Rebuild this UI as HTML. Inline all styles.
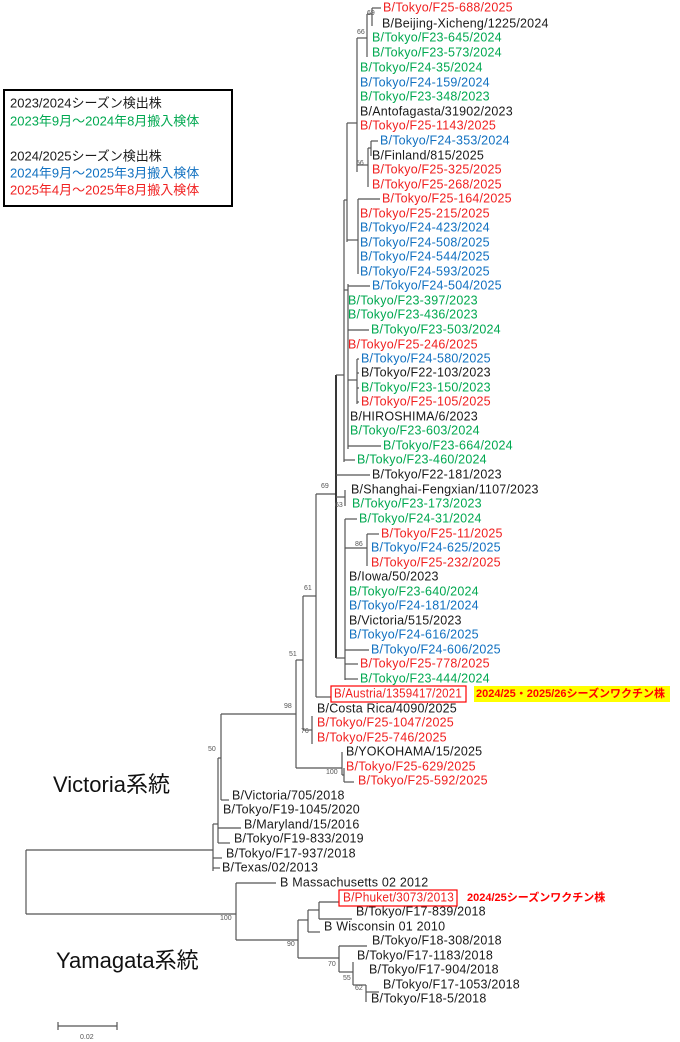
<!DOCTYPE html>
<html><head><meta charset="utf-8"><style>
html,body{margin:0;padding:0;background:#fff}
svg{display:block}
.t{font-family:"Liberation Sans","Noto Sans CJK JP",sans-serif;font-size:12.5px;letter-spacing:0.2px;dominant-baseline:middle}
.r{fill:#f02020}.g{fill:#00a850}.b{fill:#1070c0}.k{fill:#1a1a1a}
.bs{font-family:"Liberation Sans",sans-serif;font-size:7px;fill:#555}
line{stroke:#555;stroke-width:1.2}
</style></head><body>
<svg width="680" height="1042" viewBox="0 0 680 1042" xmlns="http://www.w3.org/2000/svg">
<g>
<line x1="26" y1="850" x2="26" y2="914"/>
<line x1="26" y1="850" x2="213" y2="850"/>
<line x1="26" y1="914" x2="236" y2="914"/>
<line x1="213" y1="824" x2="213" y2="871"/>
<line x1="213" y1="868" x2="220" y2="868"/>
<line x1="213" y1="858" x2="222" y2="858"/>
<line x1="213" y1="824" x2="218" y2="824"/>
<line x1="218" y1="758" x2="218" y2="843"/>
<line x1="218" y1="843" x2="230" y2="843"/>
<line x1="218" y1="828" x2="241" y2="828"/>
<line x1="218" y1="758" x2="221" y2="758"/>
<line x1="221" y1="714" x2="221" y2="800"/>
<line x1="221" y1="800" x2="229" y2="800"/>
<line x1="221" y1="714" x2="296" y2="714"/>
<line x1="296" y1="660" x2="296" y2="768"/>
<line x1="296" y1="768" x2="342" y2="768"/>
<line x1="342" y1="752" x2="342" y2="775"/>
<line x1="342" y1="775" x2="344" y2="775"/>
<line x1="344" y1="768" x2="344" y2="782"/>
<line x1="344" y1="782" x2="354" y2="782"/>
<line x1="296" y1="660" x2="303" y2="660"/>
<line x1="303" y1="596" x2="303" y2="730"/>
<line x1="303" y1="730" x2="312" y2="730"/>
<line x1="312" y1="716" x2="312" y2="744"/>
<line x1="303" y1="596" x2="316" y2="596"/>
<line x1="316" y1="494" x2="316" y2="697"/>
<line x1="316" y1="697" x2="331" y2="697"/>
<line x1="316" y1="494" x2="336" y2="494"/>
<line x1="336" y1="375" x2="336" y2="658" style="stroke-width:1.8;stroke:#222"/>
<line x1="336" y1="375" x2="344" y2="375"/>
<line x1="336" y1="475" x2="370" y2="475"/>
<line x1="336" y1="497" x2="345" y2="497"/>
<line x1="345" y1="490" x2="345" y2="506"/>
<line x1="336" y1="658" x2="345" y2="658"/>
<line x1="345" y1="519" x2="345" y2="680"/>
<line x1="345" y1="519" x2="357" y2="519"/>
<line x1="345" y1="548" x2="367" y2="548"/>
<line x1="367" y1="534" x2="367" y2="566"/>
<line x1="367" y1="534" x2="379" y2="534"/>
<line x1="345" y1="650" x2="369" y2="650"/>
<line x1="345" y1="664" x2="358" y2="664"/>
<line x1="345" y1="679" x2="358" y2="679"/>
<line x1="344" y1="200" x2="344" y2="462"/>
<line x1="344" y1="460" x2="355" y2="460"/>
<line x1="344" y1="290" x2="348" y2="290"/>
<line x1="348" y1="284" x2="348" y2="449"/>
<line x1="348" y1="286" x2="370" y2="286"/>
<line x1="348" y1="330" x2="369" y2="330"/>
<line x1="348" y1="446" x2="381" y2="446"/>
<line x1="348" y1="380" x2="357" y2="380"/>
<line x1="357" y1="359" x2="357" y2="404"/>
<line x1="357" y1="359" x2="359" y2="359"/>
<line x1="357" y1="373" x2="359" y2="373"/>
<line x1="357" y1="388" x2="359" y2="388"/>
<line x1="357" y1="402" x2="359" y2="402"/>
<line x1="344" y1="200" x2="347" y2="200"/>
<line x1="347" y1="123" x2="347" y2="242"/>
<line x1="347" y1="240" x2="358" y2="240"/>
<line x1="358" y1="199" x2="358" y2="274"/>
<line x1="358" y1="199" x2="380" y2="199"/>
<line x1="347" y1="123" x2="357" y2="123"/>
<line x1="357" y1="38" x2="357" y2="172"/>
<line x1="357" y1="38" x2="367" y2="38"/>
<line x1="367" y1="14" x2="367" y2="57"/>
<line x1="367" y1="14" x2="372" y2="14"/>
<line x1="372" y1="8" x2="372" y2="26"/>
<line x1="372" y1="8" x2="381" y2="8"/>
<line x1="357" y1="165" x2="368" y2="165"/>
<line x1="368" y1="148" x2="368" y2="187"/>
<line x1="368" y1="148" x2="371" y2="148"/>
<line x1="371" y1="141" x2="371" y2="156"/>
<line x1="371" y1="141" x2="378" y2="141"/>
<line x1="236" y1="883" x2="236" y2="940"/>
<line x1="236" y1="883" x2="276" y2="883"/>
<line x1="236" y1="940" x2="298" y2="940"/>
<line x1="298" y1="920" x2="298" y2="958"/>
<line x1="298" y1="920" x2="308" y2="920"/>
<line x1="308" y1="910" x2="308" y2="932"/>
<line x1="308" y1="932" x2="320" y2="932"/>
<line x1="308" y1="910" x2="319" y2="910"/>
<line x1="319" y1="902" x2="319" y2="919"/>
<line x1="319" y1="902" x2="339" y2="902"/>
<line x1="319" y1="919" x2="352" y2="919"/>
<line x1="298" y1="958" x2="339" y2="958"/>
<line x1="339" y1="946" x2="339" y2="972"/>
<line x1="339" y1="946" x2="367" y2="946"/>
<line x1="339" y1="972" x2="353" y2="972"/>
<line x1="353" y1="962" x2="353" y2="985"/>
<line x1="353" y1="985" x2="366" y2="985"/>
<line x1="366" y1="985" x2="366" y2="1002"/>
<line x1="366" y1="992" x2="379" y2="992"/>
<line x1="58" y1="1026" x2="117" y2="1026"/>
<line x1="58" y1="1022" x2="58" y2="1030"/>
<line x1="117" y1="1022" x2="117" y2="1030"/>
</g>
<g class="bs">
<text x="367" y="15">69</text><text x="357" y="34">66</text><text x="356" y="165">56</text>
<text x="321" y="488">69</text><text x="335" y="507">63</text><text x="355" y="546">86</text>
<text x="304" y="590">61</text><text x="289" y="656">51</text><text x="284" y="708">98</text>
<text x="301" y="733">76</text><text x="208" y="751">50</text><text x="326" y="774">100</text>
<text x="220" y="920">100</text><text x="287" y="946">90</text><text x="328" y="966">70</text>
<text x="343" y="980">55</text><text x="355" y="990">62</text><text x="80" y="1039">0.02</text>
</g>
<g class="t">
<text x="383" y="8" class="r">B/Tokyo/F25-688/2025</text>
<text x="382" y="24" class="k">B/Beijing-Xicheng/1225/2024</text>
<text x="372" y="38" class="g">B/Tokyo/F23-645/2024</text>
<text x="372" y="53" class="g">B/Tokyo/F23-573/2024</text>
<text x="360" y="68" class="g">B/Tokyo/F24-35/2024</text>
<text x="360" y="83" class="b">B/Tokyo/F24-159/2024</text>
<text x="360" y="97" class="g">B/Tokyo/F23-348/2023</text>
<text x="360" y="112" class="k">B/Antofagasta/31902/2023</text>
<text x="360" y="126" class="r">B/Tokyo/F25-1143/2025</text>
<text x="380" y="141" class="b">B/Tokyo/F24-353/2024</text>
<text x="372" y="156" class="k">B/Finland/815/2025</text>
<text x="372" y="170" class="r">B/Tokyo/F25-325/2025</text>
<text x="372" y="185" class="r">B/Tokyo/F25-268/2025</text>
<text x="382" y="199" class="r">B/Tokyo/F25-164/2025</text>
<text x="360" y="214" class="r">B/Tokyo/F25-215/2025</text>
<text x="360" y="228" class="b">B/Tokyo/F24-423/2024</text>
<text x="360" y="243" class="b">B/Tokyo/F24-508/2025</text>
<text x="360" y="257" class="b">B/Tokyo/F24-544/2025</text>
<text x="360" y="272" class="b">B/Tokyo/F24-593/2025</text>
<text x="372" y="286" class="b">B/Tokyo/F24-504/2025</text>
<text x="348" y="301" class="g">B/Tokyo/F23-397/2023</text>
<text x="348" y="315" class="g">B/Tokyo/F23-436/2023</text>
<text x="371" y="330" class="g">B/Tokyo/F23-503/2024</text>
<text x="348" y="345" class="r">B/Tokyo/F25-246/2025</text>
<text x="361" y="359" class="b">B/Tokyo/F24-580/2025</text>
<text x="361" y="373" class="k">B/Tokyo/F22-103/2023</text>
<text x="361" y="388" class="g">B/Tokyo/F23-150/2023</text>
<text x="361" y="402" class="r">B/Tokyo/F25-105/2025</text>
<text x="350" y="417" class="k">B/HIROSHIMA/6/2023</text>
<text x="350" y="431" class="g">B/Tokyo/F23-603/2024</text>
<text x="383" y="446" class="g">B/Tokyo/F23-664/2024</text>
<text x="357" y="460" class="g">B/Tokyo/F23-460/2024</text>
<text x="372" y="475" class="k">B/Tokyo/F22-181/2023</text>
<text x="351" y="490" class="k">B/Shanghai-Fengxian/1107/2023</text>
<text x="352" y="504" class="g">B/Tokyo/F23-173/2023</text>
<text x="359" y="519" class="g">B/Tokyo/F24-31/2024</text>
<text x="381" y="534" class="r">B/Tokyo/F25-11/2025</text>
<text x="371" y="548" class="b">B/Tokyo/F24-625/2025</text>
<text x="371" y="563" class="r">B/Tokyo/F25-232/2025</text>
<text x="349" y="577" class="k">B/Iowa/50/2023</text>
<text x="349" y="592" class="g">B/Tokyo/F23-640/2024</text>
<text x="349" y="606" class="b">B/Tokyo/F24-181/2024</text>
<text x="349" y="621" class="k">B/Victoria/515/2023</text>
<text x="349" y="635" class="b">B/Tokyo/F24-616/2025</text>
<text x="371" y="650" class="b">B/Tokyo/F24-606/2025</text>
<text x="360" y="664" class="r">B/Tokyo/F25-778/2025</text>
<text x="360" y="679" class="g">B/Tokyo/F23-444/2024</text>
<text x="334" y="694" class="r" textLength="128" lengthAdjust="spacingAndGlyphs">B/Austria/1359417/2021</text>
<text x="317" y="709" class="k">B/Costa Rica/4090/2025</text>
<text x="317" y="723" class="r">B/Tokyo/F25-1047/2025</text>
<text x="317" y="738" class="r">B/Tokyo/F25-746/2025</text>
<text x="346" y="752" class="k">B/YOKOHAMA/15/2025</text>
<text x="346" y="767" class="r">B/Tokyo/F25-629/2025</text>
<text x="358" y="781" class="r">B/Tokyo/F25-592/2025</text>
<text x="232" y="796" class="k">B/Victoria/705/2018</text>
<text x="223" y="810" class="k">B/Tokyo/F19-1045/2020</text>
<text x="244" y="825" class="k">B/Maryland/15/2016</text>
<text x="234" y="839" class="k">B/Tokyo/F19-833/2019</text>
<text x="226" y="854" class="k">B/Tokyo/F17-937/2018</text>
<text x="222" y="868" class="k">B/Texas/02/2013</text>
<text x="280" y="883" class="k">B Massachusetts 02 2012</text>
<text x="343" y="898" class="r" textLength="111" lengthAdjust="spacingAndGlyphs">B/Phuket/3073/2013</text>
<text x="356" y="912" class="k">B/Tokyo/F17-839/2018</text>
<text x="324" y="927" class="k">B Wisconsin 01 2010</text>
<text x="372" y="941" class="k">B/Tokyo/F18-308/2018</text>
<text x="357" y="956" class="k">B/Tokyo/F17-1183/2018</text>
<text x="369" y="970" class="k">B/Tokyo/F17-904/2018</text>
<text x="383" y="985" class="k">B/Tokyo/F17-1053/2018</text>
<text x="371" y="999" class="k">B/Tokyo/F18-5/2018</text>
</g>
<rect x="331" y="686" width="135" height="16" fill="none" stroke="#f00" stroke-width="1.2"/>
<rect x="339" y="890" width="118" height="16" fill="none" stroke="#f00" stroke-width="1.2"/>
<rect x="474" y="686" width="196" height="16" fill="#ffff00"/>
<text x="476" y="694" class="t" style="font-size:11px;letter-spacing:0;font-weight:bold;fill:#f00">2024/25・2025/26シーズンワクチン株</text>
<text x="467" y="898" class="t" style="font-size:11px;letter-spacing:0;font-weight:bold;fill:#f00">2024/25シーズンワクチン株</text>
<text x="53" y="786" class="t" style="font-size:22px;letter-spacing:0;fill:#111">Victoria系統</text>
<text x="56" y="962" class="t" style="font-size:22px;letter-spacing:0;fill:#111">Yamagata系統</text>
<rect x="4" y="90" width="228" height="116" fill="#fff" stroke="#000" stroke-width="2"/>
<g class="t" style="font-size:13px;letter-spacing:0">
<text x="10" y="104" class="k">2023/2024シーズン検出株</text>
<text x="10" y="122" class="g">2023年9月～2024年8月搬入検体</text>
<text x="10" y="157" class="k">2024/2025シーズン検出株</text>
<text x="10" y="174" class="b">2024年9月～2025年3月搬入検体</text>
<text x="10" y="191" class="r">2025年4月～2025年8月搬入検体</text>
</g>
</svg>
</body></html>
